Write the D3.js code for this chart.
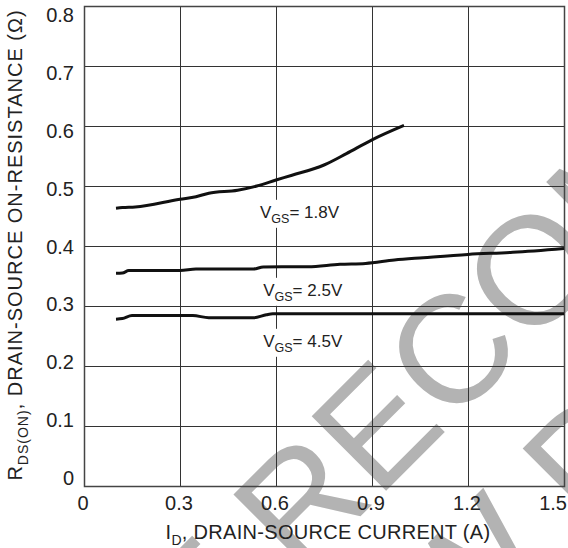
<!DOCTYPE html>
<html>
<head>
<meta charset="utf-8">
<script src="https://cdn.jsdelivr.net/npm/d3@7"></script>
<style>
  html, body { margin: 0; padding: 0; background: #fff; }
  svg { display: block; font-family: "Liberation Sans", Arial, Helvetica, sans-serif; }
</style>
</head>
<body>
<svg id="chart" width="568" height="548"></svg>
<script>
// Axis ticks
const xTicks = [0, 0.3, 0.6, 0.9, 1.2, 1.5];
const yTicks = [0, 0.1, 0.2, 0.3, 0.4, 0.5, 0.6, 0.7, 0.8];

// On-resistance vs drain current, one pair of arrays per gate voltage
const id18  = [0.10, 0.12, 0.16, 0.30, 0.35, 0.39, 0.48, 0.54, 0.60, 0.65, 0.75, 0.82, 0.90, 1.00];
const rds18 = [0.463, 0.464, 0.465, 0.478, 0.482, 0.488, 0.493, 0.500, 0.510, 0.518, 0.535, 0.554, 0.577, 0.601];

const id25  = [0.10, 0.12, 0.14, 0.30, 0.35, 0.53, 0.56, 0.70, 0.80, 0.88, 0.97, 1.06, 1.20, 1.34, 1.50];
const rds25 = [0.3545, 0.355, 0.359, 0.359, 0.3617, 0.3617, 0.365, 0.3655, 0.3695, 0.371, 0.3767, 0.3805, 0.386, 0.3895, 0.396];

const id45  = [0.10, 0.12, 0.15, 0.34, 0.39, 0.53, 0.57, 0.59, 1.50];
const rds45 = [0.278, 0.279, 0.284, 0.284, 0.2805, 0.2805, 0.2855, 0.287, 0.287];

const seriesNames = ["1.8V", "2.5V", "4.5V"];
// Label anchor points in data units (current, resistance)
const labelAnchorX = [0.55, 0.56, 0.56];
const labelAnchorY = [0.447, 0.317, 0.232];

// Diagonal watermark: each line is split into a lead-in and a tail word
const watermarkLead = ["NOT", "FOR NEW"];
const watermarkTail = ["RECOMMENDED", "DESIGN"];

(function draw() {
  const svg = d3.select("#chart");
  const pL = 84, pR = 564, pT = 6, pB = 486;

  const x = d3.scaleLinear().domain([0, 1.5]).range([pL, pR]);
  const y = d3.scaleLinear().domain([0, 0.8]).range([pB, pT]);
  // tick label column is slightly tighter than the grid
  const yLab = d3.scaleLinear().domain([0.8, 0]).range([15, 478]);

  // Watermark behind everything, rotated 45 degrees
  const wmSize = 153;
  const wm = svg.append("g")
    .attr("transform", "rotate(-45)")
    .attr("fill", "#b3b3b3")
    .style("font-size", wmSize + "px");
  const tailU = [-197, 40];   // along-baseline start of each tail word
  const baseV = [620, 792];   // baseline offset of each line
  const gap = 0.278 * wmSize; // word space
  watermarkTail.forEach((txt, i) => {
    wm.append("text").attr("x", tailU[i]).attr("y", baseV[i]).text(txt);
    wm.append("text").attr("x", tailU[i] - gap).attr("y", baseV[i])
      .attr("text-anchor", "end").text(watermarkLead[i]);
  });

  // Grid
  const grid = svg.append("g").attr("stroke", "#333").attr("stroke-width", 1).attr("shape-rendering", "crispEdges");
  grid.selectAll("line.v").data(xTicks).join("line").attr("class", "v")
    .attr("x1", d => Math.round(x(d)) + 0.5).attr("x2", d => Math.round(x(d)) + 0.5)
    .attr("y1", pT).attr("y2", pB);
  grid.selectAll("line.h").data(yTicks).join("line").attr("class", "h")
    .attr("x1", pL).attr("x2", pR)
    .attr("y1", d => Math.round(y(d)) + 0.5).attr("y2", d => Math.round(y(d)) + 0.5);

  // Frame
  svg.append("rect")
    .attr("x", pL + 0.5).attr("y", pT + 0.5)
    .attr("width", pR - pL).attr("height", pB - pT)
    .attr("fill", "none").attr("stroke", "#444").attr("stroke-width", 1.5);

  // Curves
  const line = d3.line().x(d => x(d[0])).y(d => y(d[1])).curve(d3.curveMonotoneX);
  const series = [d3.zip(id18, rds18), d3.zip(id25, rds25), d3.zip(id45, rds45)];
  svg.append("g").selectAll("path").data(series).join("path")
    .attr("d", line)
    .attr("fill", "none")
    .attr("stroke", "#111")
    .attr("stroke-width", 3)
    .attr("stroke-linejoin", "round");

  // Curve labels with white backing
  seriesNames.forEach((name, i) => {
    const g = svg.append("g");
    const bg = g.append("rect").attr("fill", "#fff");
    const t = g.append("text")
      .attr("x", x(labelAnchorX[i]))
      .attr("y", y(labelAnchorY[i]))
      .attr("fill", "#222")
      .style("font-size", "17px");
    t.append("tspan").text("V");
    t.append("tspan").attr("dy", 5).style("font-size", "12.5px").text("GS");
    t.append("tspan").attr("dy", -5).text("= " + name);
    const b = t.node().getBBox();
    bg.attr("x", b.x - 4).attr("y", b.y - 3).attr("width", b.width + 8).attr("height", b.height + 5);
  });

  // Y tick labels
  svg.append("g").selectAll("text").data(yTicks).join("text")
    .attr("x", 74)
    .attr("y", d => yLab(d) + 7)
    .attr("text-anchor", "end")
    .attr("fill", "#222")
    .style("font-size", "20px")
    .text(d => d === 0 ? "0" : d3.format(".1f")(d));

  // X tick labels
  svg.append("g").selectAll("text").data(xTicks).join("text")
    .attr("x", (d, i) => i === xTicks.length - 1 ? 567 : x(d) - 1)
    .attr("y", 510)
    .attr("text-anchor", (d, i) => i === xTicks.length - 1 ? "end" : "middle")
    .attr("fill", "#222")
    .style("font-size", "20px")
    .text(d => d === 0 ? "0" : d3.format(".1f")(d));

  // Axis titles
  const xt = svg.append("text")
    .attr("x", 328).attr("y", 539)
    .attr("text-anchor", "middle")
    .attr("fill", "#222")
    .style("font-size", "20px")
    .style("letter-spacing", "0.3px");
  xt.append("tspan").text("I");
  xt.append("tspan").attr("dy", 6).style("font-size", "14px").text("D");
  xt.append("tspan").attr("dy", -6).text(", DRAIN-SOURCE CURRENT (A)");

  const yt = svg.append("text")
    .attr("transform", "translate(22,245) rotate(-90)")
    .attr("text-anchor", "middle")
    .attr("fill", "#222")
    .style("font-size", "20px")
    .style("letter-spacing", "1px");
  yt.append("tspan").text("R");
  yt.append("tspan").attr("dy", 6).style("font-size", "14px").text("DS(ON)");
  yt.append("tspan").attr("dy", -6).text(", DRAIN-SOURCE ON-RESISTANCE (\u03A9)");
})();
</script>
</body>
</html>
